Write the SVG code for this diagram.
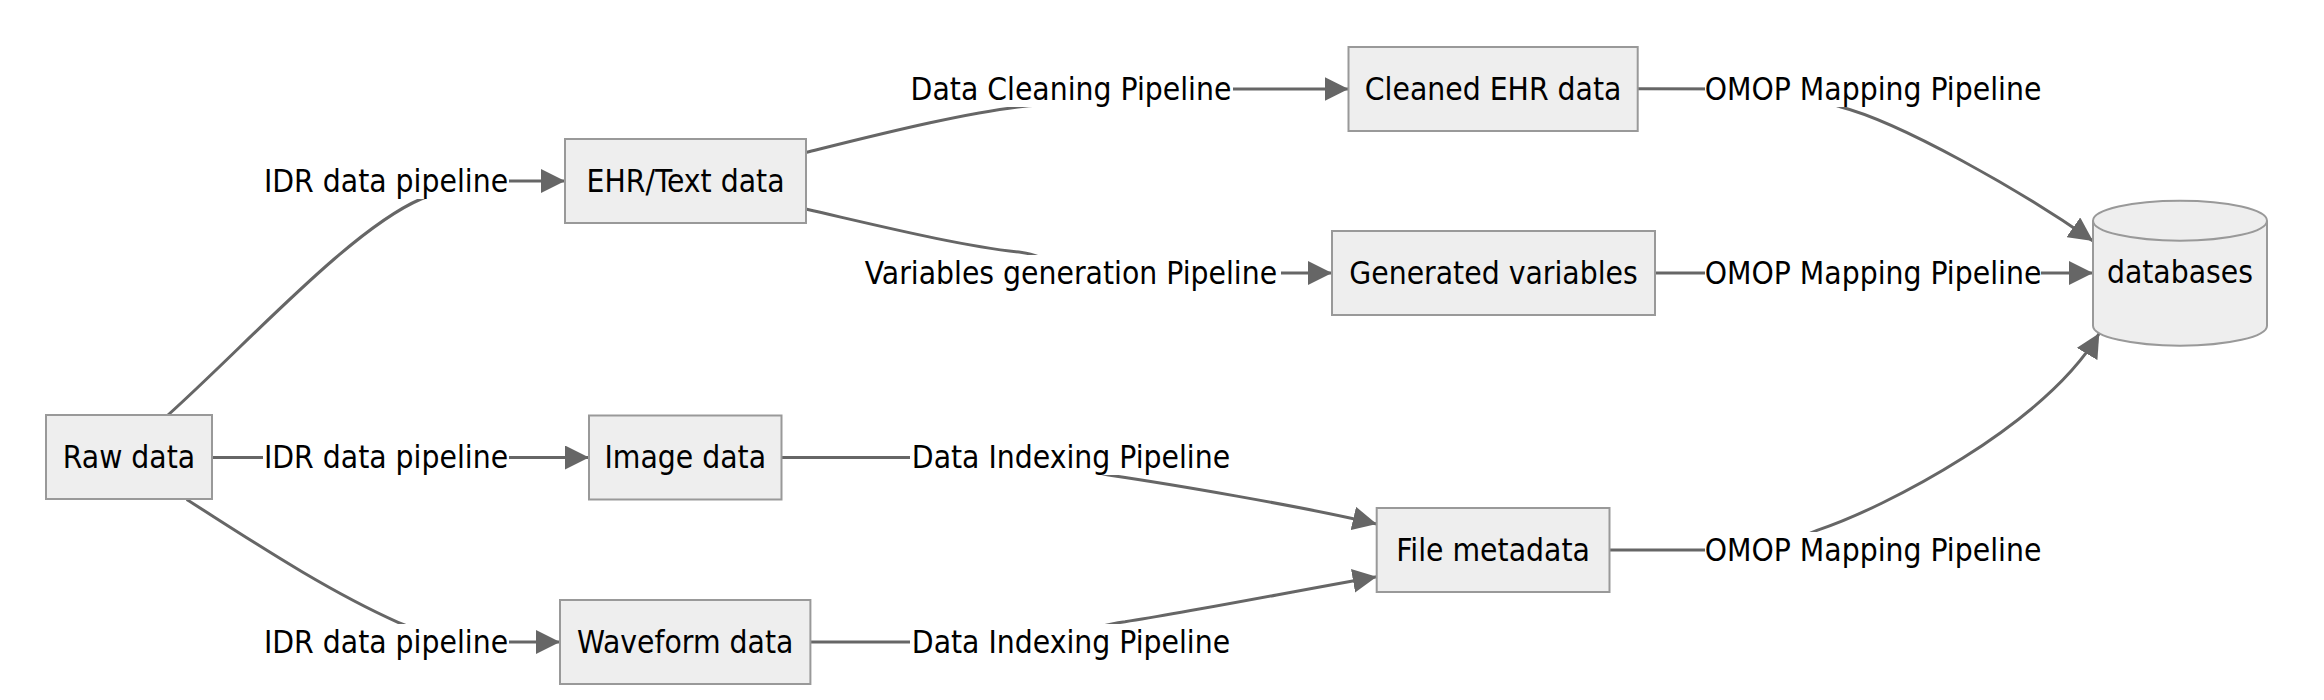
<svg xmlns="http://www.w3.org/2000/svg" width="2324" height="700" viewBox="0 0 2324 700">
<style>
  .node rect, .node path { fill: #eeeeee; stroke: #999999; stroke-width: 2; }
  .node text, .label text { font-family: "DejaVu Sans Condensed", "DejaVu Sans", sans-serif; font-stretch: condensed; font-size: 31.5px; fill: #000; text-anchor: middle; }
  .edges path { fill: none; stroke: #666666; stroke-width: 3; }
  .label rect { fill: #ffffff; stroke: none; }
</style>
<defs>
  <marker id="arrow" viewBox="0 0 10 10" refX="10" refY="5" markerWidth="24" markerHeight="24" markerUnits="userSpaceOnUse" orient="auto">
    <path d="M0,0 L10,5 L0,10 z" fill="#666666"/>
  </marker>
</defs>
<rect width="2324" height="700" fill="#ffffff"/>

<g id="connectors" class="edges">
  <path d="M168,415 C248,343 351,229 421,199 C450,187 480,181 509,181 L565,181" marker-end="url(#arrow)"/>
  <path d="M212,457.5 L589,457.5" marker-end="url(#arrow)"/>
  <path d="M186.7,499.5 C246.7,537.5 323,588.8 398,622.3 C430,636 470,642 509,642 L560,642" marker-end="url(#arrow)"/>
  <path d="M806.7,152.3 C860,139 980,108 1040,105 C1080,103 1100,89 1140,89 L1348.5,89" marker-end="url(#arrow)"/>
  <path d="M806.7,209.3 C880,226 960,246 1022,252.5 C1050,256 1060,273 1100,273 L1332,273" marker-end="url(#arrow)"/>
  <path d="M1637.7,88.7 L1760,89 C1800,89 1820,100 1840,106.7 C1900,122 2020,190 2093,241" marker-end="url(#arrow)"/>
  <path d="M1655,273 L2093,273" marker-end="url(#arrow)"/>
  <path d="M1609.5,550 L1760,550 C1790,550 1800,536 1817,530.3 C1885,508 2045,425 2099.3,333.3" marker-end="url(#arrow)"/>
  <path d="M781.5,457.5 L1000,457.5 C1060,457.5 1080,470 1108.3,475 C1170,484 1300,506 1376.7,524" marker-end="url(#arrow)"/>
  <path d="M810.4,642 L1000,642 C1060,642 1090,626 1125,621.7 C1190,612 1300,590 1376.7,576.7" marker-end="url(#arrow)"/>
</g>

<g id="edge-labels">
  <g class="label"><rect x="263" y="163" width="246" height="36"/><text x="386" y="191.7">IDR data pipeline</text></g>
  <g class="label"><rect x="263" y="439" width="246" height="36"/><text x="386" y="467.7">IDR data pipeline</text></g>
  <g class="label"><rect x="263" y="624" width="246" height="36"/><text x="386" y="652.7">IDR data pipeline</text></g>
  <g class="label"><rect x="909" y="71" width="324" height="36"/><text x="1071" y="99.7">Data Cleaning Pipeline</text></g>
  <g class="label"><rect x="861" y="255" width="420" height="36"/><text x="1071" y="283.7">Variables generation Pipeline</text></g>
  <g class="label"><rect x="910" y="439" width="322" height="36"/><text x="1071" y="467.7">Data Indexing Pipeline</text></g>
  <g class="label"><rect x="910" y="624" width="322" height="36"/><text x="1071" y="652.7">Data Indexing Pipeline</text></g>
  <g class="label"><rect x="1705" y="71" width="336" height="36"/><text x="1873" y="99.7">OMOP Mapping Pipeline</text></g>
  <g class="label"><rect x="1705" y="255" width="336" height="36"/><text x="1873" y="283.7">OMOP Mapping Pipeline</text></g>
  <g class="label"><rect x="1705" y="532" width="336" height="36"/><text x="1873" y="560.7">OMOP Mapping Pipeline</text></g>
</g>

<g id="node-raw" class="node"><rect x="46" y="415" width="166" height="84"/><text x="129" y="467.7">Raw data</text></g>
<g id="node-ehr" class="node"><rect x="565" y="139" width="241" height="84"/><text x="685.5" y="191.7">EHR/Text data</text></g>
<g id="node-image" class="node"><rect x="589" y="415.5" width="192.5" height="84"/><text x="685.3" y="468.2">Image data</text></g>
<g id="node-waveform" class="node"><rect x="560" y="600" width="250.4" height="84"/><text x="685.2" y="652.7">Waveform data</text></g>
<g id="node-cleaned" class="node"><rect x="1348.5" y="47" width="289.2" height="84"/><text x="1493.1" y="99.7">Cleaned EHR data</text></g>
<g id="node-generated" class="node"><rect x="1332" y="231" width="323" height="84"/><text x="1493.5" y="283.7">Generated variables</text></g>
<g id="node-file" class="node"><rect x="1376.7" y="508" width="232.8" height="84"/><text x="1493.1" y="560.7">File metadata</text></g>
<g id="node-databases" class="node"><path d="M2093,220.7 a87,20 0 0,0 174,0 a87,20 0 0,0 -174,0 l0,105 a87,20 0 0,0 174,0 l0,-105"/><text x="2180" y="283.3">databases</text></g>
</svg>
